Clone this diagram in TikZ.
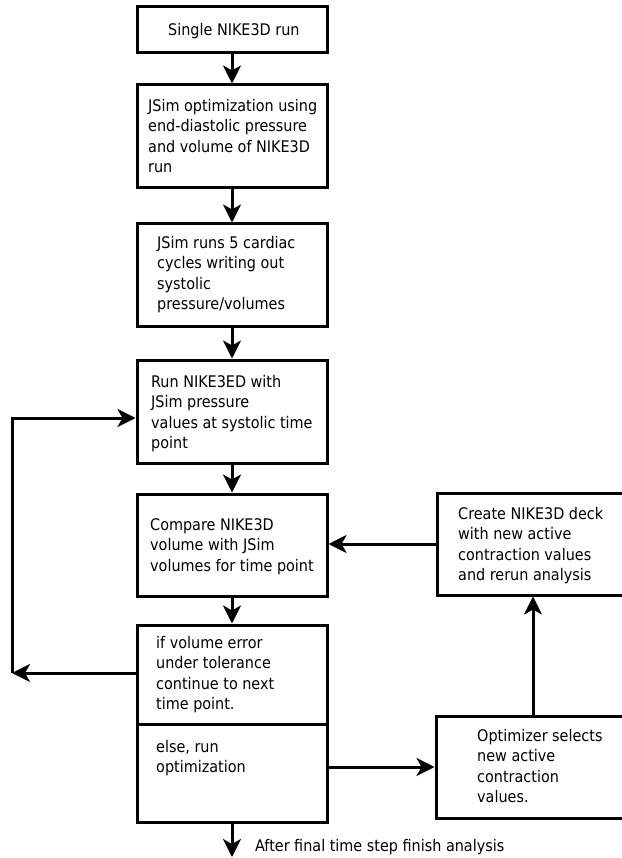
\documentclass[tikz,border=0pt]{standalone}
\usepackage{fontspec}
\setmainfont{DejaVu Sans Condensed}
\usetikzlibrary{arrows.meta}
\tikzset{
  box/.style={draw, line width=3pt, minimum width=190pt, inner sep=0pt},
  sidebox/.style={draw, line width=3pt, inner sep=0pt},
  txt/.style={anchor=north west, inner sep=0pt, align=left, font=\fontsize{16}{20.5}\selectfont},
  arr/.style={line width=3pt, -{Stealth[length=18pt, width=18pt, inset=5pt]}},
  ln/.style={line width=3pt}
}
\begin{document}
\begin{tikzpicture}[x=1pt, y=-1pt]
\useasboundingbox (0,0) rectangle (621,858);
% boxes
\node[box, minimum height=46pt]  (b1) at (232,30) {};
\node[box, minimum height=103pt] (b2) at (232,136.5) {};
\node[box, minimum height=102pt] (b3) at (232,275) {};
\node[box, minimum height=103pt] (b4) at (232,411.5) {};
\node[box, minimum height=102pt] (b5) at (232,545) {};
\node[box, minimum height=197pt] (b6) at (232,723.5) {};
\node[sidebox, minimum width=186pt, minimum height=102pt] (b7) at (530,544) {};
\node[sidebox, minimum width=187pt, minimum height=102pt] (b8) at (529.5,767) {};
\coordinate (d) at (232,724);
\draw[ln] (b6.west |- d) -- (b6.east |- d);
% texts
\node[txt] (t1) at (168,22.8) {Single NIKE3D run};
\node[txt] (t2) at (148,98.8) {JSim optimization using\\end-diastolic pressure\\and volume of NIKE3D\\run};
\node[txt] (t3) at (157,235.8) {JSim runs 5 cardiac\\cycles writing out\\systolic\\pressure/volumes};
\node[txt] (t4) at (151,374.8) {Run NIKE3ED with\\JSim pressure\\values at systolic time\\point};
\node[txt] (t5) at (150,518.3) {Compare NIKE3D\\volume with JSim\\volumes for time point};
\node[txt] (t6a) at (156,635.8) {if volume error\\under tolerance\\continue to next\\time point.};
\node[txt] (t6b) at (156,739.8) {else, run\\optimization};
\node[txt] (t7) at (458,506.8) {Create NIKE3D deck\\with new active\\contraction values\\and rerun analysis};
\node[txt] (t8) at (477,728.8) {Optimizer selects\\new active\\contraction\\values.};
\node[anchor=base west, inner sep=0pt, font=\fontsize{16}{20.5}\selectfont] (fin) at (255,851) {After final time step finish analysis};
% connectors
\draw[arr] (b1.south) -- (b2.north);
\draw[arr] (b2.south) -- (b3.north);
\draw[arr] (b3.south) -- (b4.north);
\draw[arr] (b4.south) -- (b5.north);
\draw[arr] (b5.south) -- (b6.north);
\coordinate (L1) at (12,673);
\coordinate (L2) at (12,418);
\draw[arr] (b6.west |- L1) -- (L1);
\draw[arr] (L1) -- (L2) -- (b4.west |- L2);
\draw[arr] (b8.west -| b6.east) -- (b8.west);
\draw[arr] ([xshift=3.5pt]b8.north) -- ([xshift=3pt]b7.south);
\draw[arr] (b7.west) -- (b7.west -| b5.east);
\coordinate (E) at (232,857);
\draw[arr] (b6.south) -- (E);
\end{tikzpicture}
\end{document}
